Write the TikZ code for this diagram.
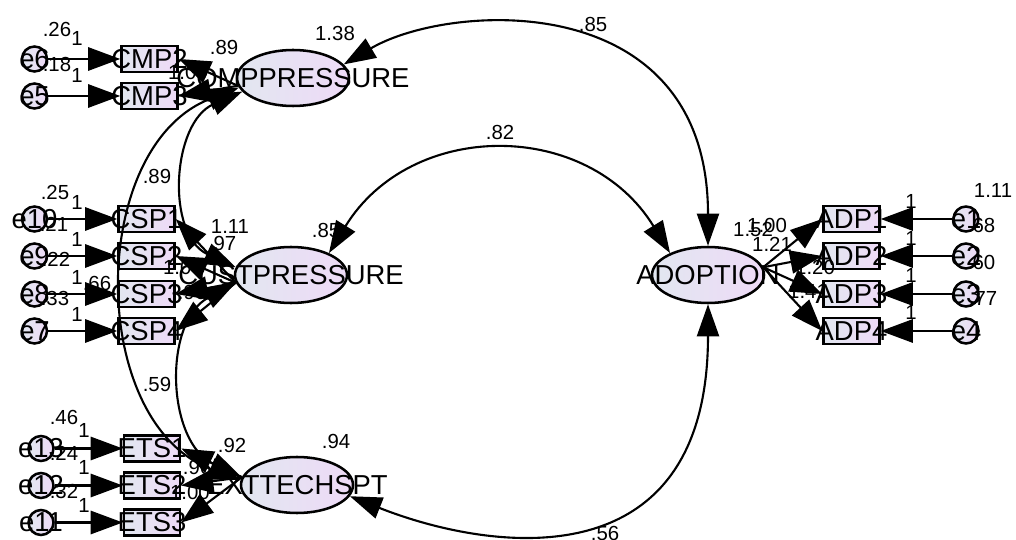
\documentclass[tikz,border=0pt]{standalone}
\usepackage{fontspec}
\setmainfont{Liberation Sans}
\usepackage{xcolor}
\definecolor{amosblue}{RGB}{226,231,240}
\definecolor{amospink}{RGB}{238,218,247}
\usepackage{tikz}
\usetikzlibrary{arrows.meta, shapes.geometric}

\tikzset{
  latent/.style={ellipse, draw, line width=1.8pt, left color=amosblue, right color=amospink,
    minimum width=2.8cm, minimum height=1.4cm, inner sep=0pt, font=\fontsize{19.5}{22}\selectfont},
  item/.style={rectangle, draw, line width=1.8pt, left color=amosblue, right color=amospink,
    minimum width=1.4cm, minimum height=0.65cm, inner sep=0pt, font=\fontsize{19.5}{22}\selectfont},
  err/.style={circle, draw, line width=1.8pt, left color=amosblue, right color=amospink,
    minimum size=0.625cm, inner sep=0pt, font=\fontsize{19.5}{22}\selectfont},
  regr/.style={line width=1.5pt, -{Triangle[length=0.8cm, width=0.58cm]}},
  cov/.style={line width=1.5pt, {Triangle[length=0.8cm, width=0.55cm]}-{Triangle[length=0.8cm, width=0.55cm]}},
  est/.style={font=\fontsize{14.5}{16}\selectfont, inner sep=0pt},
}
% names wider than their shapes
\newcommand{\nm}[1]{\makebox[0pt]{#1}}

\begin{document}
\begin{tikzpicture}
  \useasboundingbox (0,0) rectangle (25.4,13.475);

  % Latent factors
  \node[latent] (comp) at (7.325,11.525) {\nm{COMPPRESSURE}};
  \node[latent] (cust) at (7.275,6.6)    {\nm{CUSTPRESSURE}};
  \node[latent] (ext)  at (7.425,1.35)   {\nm{EXTTECHSPT}};
  \node[latent] (adop) at (17.7,6.6)     {\nm{ADOPTION}};

  % --- Competitive pressure ---
  \node[item] (cmp2) at (3.7375,12.0)   {\nm{CMP2}};
  \node[item] (cmp3) at (3.7375,11.075) {\nm{CMP3}};
  \node[err] (e6) at (0.8625,12.0)   {\nm{e6}};
  \node[err] (e5) at (0.8625,11.075) {\nm{e5}};

  % --- Customer pressure ---
  \node[item] (csp1) at (3.6625,8.0)   {\nm{CSP1}};
  \node[item] (csp2) at (3.6625,7.075) {\nm{CSP2}};
  \node[item] (csp3) at (3.6625,6.125) {\nm{CSP3}};
  \node[item] (csp4) at (3.6625,5.2)   {\nm{CSP4}};
  \node[err] (e10) at (0.8625,8.0)   {\nm{e10}};
  \node[err] (e9)  at (0.8625,7.075) {\nm{e9}};
  \node[err] (e8)  at (0.8625,6.125) {\nm{e8}};
  \node[err] (e7)  at (0.8625,5.2)   {\nm{e7}};

  % --- External technical support ---
  \node[item] (ets1) at (3.8,2.2625) {\nm{ETS1}};
  \node[item] (ets2) at (3.8,1.3375) {\nm{ETS2}};
  \node[item] (ets3) at (3.8,0.4125) {\nm{ETS3}};
  \node[err] (e13) at (1.025,2.2625) {\nm{e13}};
  \node[err] (e12) at (1.025,1.3375) {\nm{e12}};
  \node[err] (e11) at (1.025,0.4125) {\nm{e11}};

  % --- Adoption ---
  \node[item] (adp1) at (21.2875,8.0)   {\nm{ADP1}};
  \node[item] (adp2) at (21.2875,7.075) {\nm{ADP2}};
  \node[item] (adp3) at (21.2875,6.125) {\nm{ADP3}};
  \node[item] (adp4) at (21.2875,5.2)   {\nm{ADP4}};
  \node[err] (e1) at (24.15,8.0)   {\nm{e1}};
  \node[err] (e2) at (24.15,7.075) {\nm{e2}};
  \node[err] (e3) at (24.15,6.125) {\nm{e3}};
  \node[err] (e4) at (24.15,5.2)   {\nm{e4}};

  % Error terms into items
  \draw[regr] (e6) -- (cmp2);
  \draw[regr] (e5) -- (cmp3);
  \draw[regr] (e10) -- (csp1);
  \draw[regr] (e9) -- (csp2);
  \draw[regr] (e8) -- (csp3);
  \draw[regr] (e7) -- (csp4);
  \draw[regr] (e13) -- (ets1);
  \draw[regr] (e12) -- (ets2);
  \draw[regr] (e11) -- (ets3);
  \draw[regr] (e1) -- (adp1);
  \draw[regr] (e2) -- (adp2);
  \draw[regr] (e3) -- (adp3);
  \draw[regr] (e4) -- (adp4);

  % Loadings
  \draw[regr] (comp.188) -- (cmp2.east);
  \draw[regr] (comp.188) -- (cmp3.east);
  \draw[regr] (cust.188) -- (csp1.east);
  \draw[regr] (cust.188) -- (csp2.east);
  \draw[regr] (cust.188) -- (csp3.east);
  \draw[regr] (cust.188) -- (csp4.east);
  \draw[regr] (ext.172) -- (ets1.east);
  \draw[regr] (ext.172) -- (ets2.east);
  \draw[regr] (ext.172) -- (ets3.east);
  \draw[regr] (adop.8) -- (adp1.west);
  \draw[regr] (adop.8) -- (adp2.west);
  \draw[regr] (adop.8) -- (adp3.west);
  \draw[regr] (adop.8) -- (adp4.west);

  % Covariances
  \draw[cov] (comp.15) .. controls +(2.625,1.55) and +(0,6.5) .. (adop.north);
  \draw[cov] (cust.30) .. controls +(2.06,3.35) and +(-2.06,3.35) .. (adop.150);
  \draw[cov] (ext.348) .. controls +(3.475,-1.375) and +(0,-7) .. (adop.south);
  \draw[cov] (comp.195) .. controls +(-1.77,-0.775) and +(-1.75,0.81) .. (cust.172);
  \draw[cov] (comp.190) .. controls +(-3.8,-1.5) and +(-3.83,1.43) .. (ext.175);
  \draw[cov] (cust.188) .. controls +(-1.83,-0.99) and +(-1.88,0.88) .. (ext.172);

  % Variances
  \node[est] (vcomp) at (8.375,12.65) {1.38};
  \node[est] (vcust) at (8.15,7.725)  {.85};
  \node[est] (vext)  at (8.4,2.45)    {.94};
  \node[est] (vadop) at (18.825,7.75) {1.52};
  \node[est] (ve6)  at (1.425,12.75)  {.26};
  \node[est] (ve5)  at (1.425,11.875) {.18};
  \node[est] (ve10) at (1.375,8.675)  {.25};
  \node[est] (ve9)  at (1.35,7.875)   {.21};
  \node[est] (ve8)  at (1.4,7.0)      {.22};
  \node[est] (ve7)  at (1.375,6.025)  {.33};
  \node[est] (ve13) at (1.6,3.05)     {.46};
  \node[est] (ve12) at (1.6,2.15)     {.24};
  \node[est] (ve11) at (1.6,1.2)      {.32};
  \node[est] (ve1)  at (24.825,8.725) {1.11};
  \node[est] (ve2)  at (24.525,7.85)  {.68};
  \node[est] (ve3)  at (24.525,6.925) {.60};
  \node[est] (ve4)  at (24.575,6.025) {.77};

  % Fixed error weights
  \node[est] (w6)  at (1.925,12.525) {1};
  \node[est] (w5)  at (1.925,11.6)   {1};
  \node[est] (w10) at (1.925,8.425)  {1};
  \node[est] (w9)  at (1.925,7.5)    {1};
  \node[est] (w8)  at (1.925,6.55)   {1};
  \node[est] (w7)  at (1.925,5.625)  {1};
  \node[est] (w13) at (2.1,2.725)    {1};
  \node[est] (w12) at (2.1,1.8)      {1};
  \node[est] (w11) at (2.1,0.85)     {1};
  \node[est] (w1)  at (22.775,8.45)  {1};
  \node[est] (w2)  at (22.775,7.525) {1};
  \node[est] (w3)  at (22.775,6.6)   {1};
  \node[est] (w4)  at (22.775,5.675) {1};

  % Loading estimates
  \node[est] (lcmp2) at (5.6,12.3)   {.89};
  \node[est] (lcmp3) at (4.7,11.675) {1.00};
  \node[est] (lcsp1) at (5.75,7.825) {1.11};
  \node[est] (lcsp2) at (5.55,7.4)   {.97};
  \node[est] (lcsp3) at (4.575,6.8)  {1.00};
  \node[est] (lcsp4) at (4.8,6.175)  {.96};
  \node[est] (lets1) at (5.8,2.35)   {.92};
  \node[est] (lets2) at (4.925,1.8)  {.96};
  \node[est] (lets3) at (4.75,1.175) {1.00};
  \node[est] (ladp1) at (19.175,7.85) {1.00};
  \node[est] (ladp2) at (19.3,7.375)  {1.21};
  \node[est] (ladp3) at (20.375,6.8)  {1.20};
  \node[est] (ladp4) at (20.2,6.2)    {1.41};

  % Covariance estimates
  \node[est] (c1) at (14.825,12.875) {.85};
  \node[est] (c2) at (12.5,10.175)   {.82};
  \node[est] (c3) at (15.125,0.15)   {.56};
  \node[est] (c4) at (3.925,9.075)   {.89};
  \node[est] (c5) at (2.425,6.4)     {.66};
  \node[est] (c6) at (3.925,3.875)   {.59};
\end{tikzpicture}
\end{document}
